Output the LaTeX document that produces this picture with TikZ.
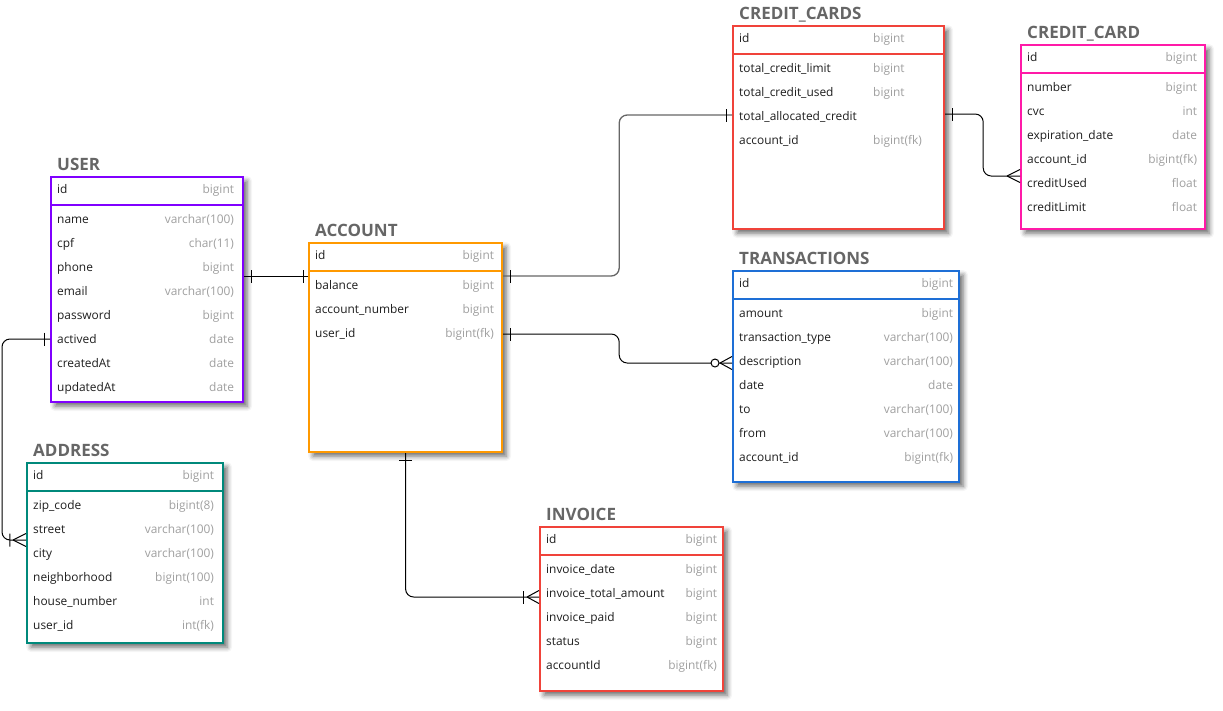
\documentclass[tikz,border=0pt]{standalone}
\usepackage{fontspec}
\setmainfont{Open Sans}
\usetikzlibrary{shadows.blur}
\usetikzlibrary{decorations.markings}

\definecolor{userc}{HTML}{8000FF}
\definecolor{accountc}{HTML}{FF9900}
\definecolor{addressc}{HTML}{00897B}
\definecolor{cardsc}{HTML}{F0433A}
\definecolor{cardc}{HTML}{FF1AA8}
\definecolor{transc}{HTML}{1E6FD6}
\definecolor{invoicec}{HTML}{F0433A}
\definecolor{titlegray}{HTML}{666666}
\definecolor{fieldc}{HTML}{1E1E1E}
\definecolor{typec}{HTML}{A0A0A0}

\tikzset{
	tbl/.style={draw=#1, line width=2.2pt, fill=white, anchor=north west, inner sep=0pt,
		blur shadow={shadow xshift=4pt, shadow yshift=-4pt, shadow blur radius=5pt, shadow opacity=60}},
	ttl/.style={font=\fontsize{17}{19}\selectfont\bfseries, text=titlegray, inner sep=0pt, anchor=base west},
	fld/.style={font=\fontsize{11.9}{14}\selectfont, text=fieldc, inner sep=0pt, anchor=base west},
	typ/.style={font=\fontsize{11.9}{14}\selectfont, text=typec, inner sep=0pt, anchor=base east},
	rel/.style={black, line width=1pt, rounded corners=8pt},
	bar at start/.style={postaction={decorate, decoration={markings,
		mark=at position #1 with {\draw[black,line width=1pt] (0pt,-6.5pt) -- (0pt,6.5pt);}}}},
	bar at end/.style={postaction={decorate, decoration={markings,
		mark=at position -#1 with {\draw[black,line width=1pt] (0pt,-6.5pt) -- (0pt,6.5pt);}}}},
	crow at end/.style={postaction={decorate, decoration={markings,
		mark=at position -#1 with {\draw[black,line width=1pt] (0pt,0pt) -- (#1,6.5pt) (0pt,0pt) -- (#1,-6.5pt);}}}},
	ring at end/.style={postaction={decorate, decoration={markings,
		mark=at position -#1 with {\draw[black,line width=1pt,fill=white] (0pt,0pt) circle (4pt);}}}},
}

\begin{document}
\begin{tikzpicture}[x=1pt,y=-1pt]
	\useasboundingbox (0,0) rectangle (1223,710);

	% USER
	\node[tbl=userc, minimum width=192pt, minimum height=225pt] (user) at (50,176) {};
	\draw[userc, line width=2pt] ([yshift=-29pt]user.north west) -- ([yshift=-29pt]user.north east);
	\node[ttl] (userT) at ([shift={(7pt,6pt)}]user.north west) {USER};
	\foreach \f/\t [count=\i from 0] in {id/bigint, name/varchar(100), cpf/char(11), phone/bigint,
		email/varchar(100), password/bigint, actived/date, createdAt/date, updatedAt/date}{
		\pgfmathsetmacro\dy{\i==0 ? 17.5 : 23.5+24*\i}
		\node[fld] (user-f\i) at ([shift={(7pt,-\dy pt)}]user.north west) {\f};
		\node[typ] (user-t\i) at ([shift={(-10pt,-\dy pt)}]user.north east) {\t};
	}

	% ACCOUNT
	\node[tbl=accountc, minimum width=193pt, minimum height=209pt] (account) at (308,242) {};
	\draw[accountc, line width=2pt] ([yshift=-29pt]account.north west) -- ([yshift=-29pt]account.north east);
	\node[ttl] (accountT) at ([shift={(7pt,6pt)}]account.north west) {ACCOUNT};
	\foreach \f/\t [count=\i from 0] in {id/bigint, balance/bigint, account\_number/bigint, user\_id/bigint(fk)}{
		\pgfmathsetmacro\dy{\i==0 ? 17.5 : 23.5+24*\i}
		\node[fld] (account-f\i) at ([shift={(7pt,-\dy pt)}]account.north west) {\f};
		\node[typ] (account-t\i) at ([shift={(-9pt,-\dy pt)}]account.north east) {\t};
	}

	% ADDRESS
	\node[tbl=addressc, minimum width=196pt, minimum height=180pt] (address) at (26,462) {};
	\draw[addressc, line width=2pt] ([yshift=-29pt]address.north west) -- ([yshift=-29pt]address.north east);
	\node[ttl] (addressT) at ([shift={(7pt,6pt)}]address.north west) {ADDRESS};
	\foreach \f/\t [count=\i from 0] in {id/bigint, zip\_code/bigint(8), street/varchar(100), city/varchar(100),
		neighborhood/bigint(100), house\_number/int, user\_id/int(fk)}{
		\pgfmathsetmacro\dy{\i==0 ? 17.5 : 23.5+24*\i}
		\node[fld] (address-f\i) at ([shift={(7pt,-\dy pt)}]address.north west) {\f};
		\node[typ] (address-t\i) at ([shift={(-10pt,-\dy pt)}]address.north east) {\t};
	}

	% CREDIT_CARDS
	\node[tbl=cardsc, minimum width=211pt, minimum height=203pt] (cards) at (732,25) {};
	\draw[cardsc, line width=2pt] ([yshift=-29pt]cards.north west) -- ([yshift=-29pt]cards.north east);
	\node[ttl] (cardsT) at ([shift={(7pt,6pt)}]cards.north west) {CREDIT\_CARDS};
	\foreach \f/\t [count=\i from 0] in {id/bigint, total\_credit\_limit/bigint, total\_credit\_used/bigint,
		total\_allocated\_credit/, account\_id/bigint(fk)}{
		\pgfmathsetmacro\dy{\i==0 ? 17.5 : 23.5+24*\i}
		\node[fld] (cards-f\i) at ([shift={(7pt,-\dy pt)}]cards.north west) {\f};
		\node[typ, anchor=base west] (cards-t\i) at ([shift={(141pt,-\dy pt)}]cards.north west) {\t};
	}

	% CREDIT_CARD
	\node[tbl=cardc, minimum width=184pt, minimum height=184pt] (card) at (1020,44) {};
	\draw[cardc, line width=2pt] ([yshift=-29pt]card.north west) -- ([yshift=-29pt]card.north east);
	\node[ttl] (cardT) at ([shift={(7pt,6pt)}]card.north west) {CREDIT\_CARD};
	\foreach \f/\t [count=\i from 0] in {id/bigint, number/bigint, cvc/int, expiration\_date/date,
		account\_id/bigint(fk), creditUsed/float, creditLimit/float}{
		\pgfmathsetmacro\dy{\i==0 ? 17.5 : 23.5+24*\i}
		\node[fld] (card-f\i) at ([shift={(7pt,-\dy pt)}]card.north west) {\f};
		\node[typ] (card-t\i) at ([shift={(-9pt,-\dy pt)}]card.north east) {\t};
	}

	% TRANSACTIONS
	\node[tbl=transc, minimum width=226pt, minimum height=211pt] (trans) at (732,270) {};
	\draw[transc, line width=2pt] ([yshift=-29pt]trans.north west) -- ([yshift=-29pt]trans.north east);
	\node[ttl] (transT) at ([shift={(7pt,6pt)}]trans.north west) {TRANSACTIONS};
	\foreach \f/\t [count=\i from 0] in {id/bigint, amount/bigint, transaction\_type/varchar(100),
		description/varchar(100), date/date, to/varchar(100), from/varchar(100), account\_id/bigint(fk)}{
		\pgfmathsetmacro\dy{\i==0 ? 17.5 : 23.5+24*\i}
		\node[fld] (trans-f\i) at ([shift={(7pt,-\dy pt)}]trans.north west) {\f};
		\node[typ] (trans-t\i) at ([shift={(-7pt,-\dy pt)}]trans.north east) {\t};
	}

	% INVOICE
	\node[tbl=invoicec, minimum width=183pt, minimum height=164pt] (invoice) at (539,526) {};
	\draw[invoicec, line width=2pt] ([yshift=-29pt]invoice.north west) -- ([yshift=-29pt]invoice.north east);
	\node[ttl] (invoiceT) at ([shift={(7pt,6pt)}]invoice.north west) {INVOICE};
	\foreach \f/\t [count=\i from 0] in {id/bigint, invoice\_date/bigint, invoice\_total\_amount/bigint,
		invoice\_paid/bigint, status/bigint, accountId/bigint(fk)}{
		\pgfmathsetmacro\dy{\i==0 ? 17.5 : 23.5+24*\i}
		\node[fld] (invoice-f\i) at ([shift={(7pt,-\dy pt)}]invoice.north west) {\f};
		\node[typ] (invoice-t\i) at ([shift={(-7pt,-\dy pt)}]invoice.north east) {\t};
	}

	% relations
	\coordinate (user-out) at ([yshift=-100pt]user.north east);
	\coordinate (account-in) at ([yshift=-34pt]account.north west);
	\draw[rel, bar at start=7pt, bar at end=5pt] (user-out) -- (account-in);

	\coordinate (user-adr) at ([yshift=-163pt]user.north west);
	\coordinate (address-in) at ([yshift=-78pt]address.north west);
	\draw[rel, bar at start=6pt, bar at end=16pt, crow at end=13pt] (user-adr) -- ++(-48,0) |- (address-in);

	\coordinate (account-cc) at ([yshift=-34pt]account.north east);
	\coordinate (cards-in) at ([yshift=-90pt]cards.north west);
	\draw[rel, black!60, line width=1.3pt, bar at start=7pt, bar at end=6pt] (account-cc) -- ++(116,0) |- (cards-in);

	\coordinate (account-tr) at ([yshift=-92pt]account.north east);
	\coordinate (trans-in) at ([yshift=-93pt]trans.north west);
	\draw[rel, bar at start=7pt, crow at end=12pt, ring at end=17pt] (account-tr) -- ++(116,0) |- (trans-in);

	\coordinate (cards-out) at ([yshift=-89pt]cards.north east);
	\coordinate (card-in) at ([yshift=-132pt]card.north west);
	\draw[rel, bar at start=7pt, crow at end=13pt] (cards-out) -- ++(38,0) |- (card-in);

	\coordinate (invoice-in) at ([yshift=-71pt]invoice.north west);
	\draw[rel, bar at start=7pt, bar at end=16pt, crow at end=12pt] (account.south) |- (invoice-in);
\end{tikzpicture}
\end{document}
